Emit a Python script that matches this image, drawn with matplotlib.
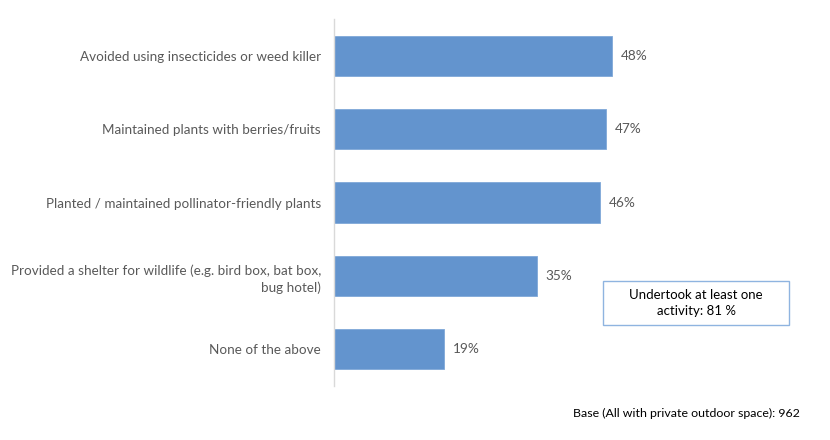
import matplotlib
matplotlib.use("Agg")
import matplotlib.pyplot as plt
from matplotlib.patches import Rectangle

categories = [
    "Avoided using insecticides or weed killer",
    "Maintained plants with berries/fruits",
    "Planted / maintained pollinator-friendly plants",
    "Provided a shelter for wildlife (e.g. bird box, bat box,\nbug hotel)",
    "None of the above",
]
values = [48, 47, 46, 35, 19]
value_labels = ["48%", "47%", "46%", "35%", "19%"]
box_text = "Undertook at least one\nactivity: 81 %"
base_text = "Base (All with private outdoor space): 962"

plt.rcParams['font.family'] = ['Lato', 'DejaVu Sans']
W, H = 830, 440
fig = plt.figure(figsize=(W/100, H/100), dpi=100)
left, right = 334, 797
top, bottom = 19, 386
ax = fig.add_axes([left/W, 1 - bottom/H, (right-left)/W, (bottom-top)/H])

bar_color = "#6394CE"
text_color = "#595959"
ypos = list(range(len(categories)))
ax.barh(ypos, values, height=0.545, color=bar_color, edgecolor="#7FA8D8", linewidth=0.6)
ax.set_xlim(0, 80)
ax.set_ylim(len(categories) - 0.5, -0.5)
for y, v, lab in zip(ypos, values, value_labels):
    ax.annotate(lab, (v, y), xytext=(9, 0), textcoords="offset pixels",
                va="center", ha="left", fontsize=9.8, color=text_color)
ax.set_yticks(ypos)
ax.set_yticklabels(categories, fontsize=9.7, color=text_color, linespacing=1.4)
ax.tick_params(axis='y', length=0, pad=9.4)
ax.set_xticks([])
for s in ["top", "right", "bottom"]:
    ax.spines[s].set_visible(False)
ax.spines["left"].set_color("#D9D9D9")
ax.spines["left"].set_linewidth(1.0)

# annotation box
bx0, by0, bx1, by1 = 603, 281, 789, 325
fig.patches.append(Rectangle((bx0/W, 1 - by1/H), (bx1-bx0)/W, (by1-by0)/H,
                             transform=fig.transFigure, facecolor="white",
                             edgecolor="#8FB4E0", linewidth=1.0))
fig.text((bx0+bx1)/2/W, 1 - (by0+by1)/2/H, box_text, ha="center", va="center",
         fontsize=9.5, color="#000000", linespacing=1.45)

fig.text(800/W, 1 - 413/H, base_text, ha="right", va="center", fontsize=8.9, color="#000000")

fig.savefig("out.png", dpi=100)
